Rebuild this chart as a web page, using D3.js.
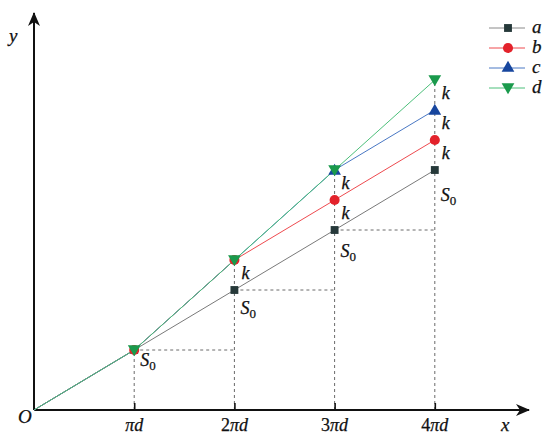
<!DOCTYPE html>
<html><head><meta charset="utf-8">
<script src="https://cdn.jsdelivr.net/npm/d3@7/dist/d3.min.js"></script>
<style>
body{margin:0;background:#fff;}
svg{display:block;}
text{font-family:"Liberation Serif","Times New Roman",serif;fill:#111;stroke:#111;stroke-width:0.25;}
</style></head>
<body>
<svg id="chart" width="549" height="434"></svg>
<script>
// ---- data ----
const xValues = [0, 1, 2, 3, 4];
const seriesNames = ["a", "b", "c", "d"];
const seriesA = [0, 1, 2, 3, 4];
const seriesB = [0, 1, 2.5, 3.5, 4.5];
const seriesC = [0, 1, 2.5, 4, 5];
const seriesD = [0, 1, 2.5, 4, 5.5];
const tickValues = [1, 2, 3, 4];
const tickNumbers = ["", "2", "3", "4"];
const kPointsX = [2, 3, 3, 4, 4, 4];
const kPointsY = [2.5, 4, 3.5, 5.5, 5, 4.5];
const s0PointsX = [1, 2, 3, 4];
const s0PointsY = [1, 2, 3, 4];

const svg = d3.select("#chart");
const x = d3.scaleLinear().domain([0, 4.94]).range([34, 529]);
const y = d3.scaleLinear().domain([0, 6.6]).range([410, 14]);

const styles = {
  a: {line: "#7a7a7a", fill: "#26393a", shape: d3.symbolSquare, size: 62, minX: 1},
  b: {line: "#ee4a4f", fill: "#e3222b", shape: d3.symbolCircle, size: 80, minX: 1},
  c: {line: "#4a78c4", fill: "#17469e", shape: d3.symbolTriangle, size: 70, minX: 3},
  d: {line: "#4cbf7a", fill: "#1a9a4c", shape: d3.symbolTriangle, size: 70, rot: 180, minX: 1}
};
const seriesData = {a: seriesA, b: seriesB, c: seriesC, d: seriesD};

// defs: arrowhead
const defs = svg.append("defs");
defs.append("marker").attr("id", "arr").attr("viewBox", "0 0 14 12")
  .attr("refX", 13).attr("refY", 6).attr("markerWidth", 14).attr("markerHeight", 12)
  .attr("markerUnits", "userSpaceOnUse").attr("orient", "auto")
  .append("path").attr("d", "M0,0 L14,6 L0,12 L4,6 Z").attr("fill", "#111");

// dashed guide lines
const g = svg.append("g");
const topAt = xv => d3.max(seriesNames, n => seriesData[n][xValues.indexOf(xv)]);
tickValues.forEach(xv => {
  g.append("line").attr("x1", x(xv)).attr("x2", x(xv))
    .attr("y1", y(0)).attr("y2", y(topAt(xv)))
    .attr("stroke", "#6a6a6a").attr("stroke-width", 1).attr("stroke-dasharray", "3,3");
});
[1, 2, 3].forEach(xv => {
  g.append("line").attr("x1", x(xv)).attr("x2", x(xv + 1))
    .attr("y1", y(seriesA[xValues.indexOf(xv)])).attr("y2", y(seriesA[xValues.indexOf(xv)]))
    .attr("stroke", "#6a6a6a").attr("stroke-width", 1).attr("stroke-dasharray", "3,3");
});

// x axis ticks
const xAxis = d3.axisBottom(x).tickValues(tickValues).tickSizeInner(-7).tickSizeOuter(0).tickFormat("");
const ax = svg.append("g").attr("transform", `translate(0,${y(0)})`).call(xAxis);
ax.select(".domain").remove();
ax.selectAll(".tick line").attr("stroke", "#111").attr("stroke-width", 1.6);
tickValues.forEach((tv, i) => {
  const t = svg.append("text").attr("x", x(tv)).attr("y", 431).attr("text-anchor", "middle")
    .attr("font-size", 18);
  if (tickNumbers[i]) t.append("tspan").text(tickNumbers[i]);
  t.append("tspan").attr("font-style", "italic").text("πd");
});

// axes lines with arrows
svg.append("line").attr("x1", x(0)).attr("y1", y(0)).attr("x2", 529).attr("y2", y(0))
  .attr("stroke", "#111").attr("stroke-width", 2).attr("marker-end", "url(#arr)");
svg.append("line").attr("x1", x(0)).attr("y1", y(0)).attr("x2", x(0)).attr("y2", 13)
  .attr("stroke", "#111").attr("stroke-width", 2).attr("marker-end", "url(#arr)");

svg.append("text").attr("x", 18).attr("y", 423).attr("font-size", 19).attr("font-style", "italic").text("O");
svg.append("text").attr("x", 501).attr("y", 431).attr("font-size", 19).attr("font-style", "italic").text("x");
svg.append("text").attr("x", 9).attr("y", 42).attr("font-size", 19).attr("font-style", "italic").text("y");

// series lines
const line = d3.line().x((d, i) => x(xValues[i])).y(d => y(d));
seriesNames.forEach(n => {
  svg.append("path").datum(seriesData[n]).attr("d", line)
    .attr("fill", "none").attr("stroke", styles[n].line).attr("stroke-width", 1);
});
// markers
seriesNames.forEach(n => {
  const st = styles[n];
  svg.append("g").selectAll("path").data(seriesData[n].map((v, i) => [xValues[i], v]).filter(d => d[0] >= st.minX))
    .join("path")
    .attr("d", d3.symbol().type(st.shape).size(st.size))
    .attr("transform", d => `translate(${x(d[0])},${y(d[1]) + (st.rot ? -1 : (n === "c" ? 1 : 0))}) rotate(${st.rot || 0})`)
    .attr("fill", st.fill);
});

// k labels
kPointsX.forEach((kx, i) => {
  svg.append("text").attr("x", x(kx) + 7).attr("y", y(kPointsY[i]) + 19)
    .attr("font-size", 18).attr("font-style", "italic").text("k");
});
// S0 labels
const s0dy = [16, 24, 27, 31];
s0PointsX.forEach((sx, i) => {
  const t = svg.append("text").attr("x", x(sx) + 6).attr("y", y(s0PointsY[i]) + s0dy[i])
    .attr("font-size", 18);
  t.append("tspan").attr("font-style", "italic").text("S");
  t.append("tspan").attr("font-size", 13).attr("dy", 4).text("0");
});

// legend
const lg = svg.append("g");
seriesNames.forEach((n, i) => {
  const st = styles[n];
  const ly = 28 + i * 20;
  lg.append("line").attr("x1", 489).attr("x2", 525).attr("y1", ly).attr("y2", ly)
    .attr("stroke", n === "a" ? "#8a8a8a" : st.line).attr("stroke-width", 1);
  lg.append("path").attr("d", d3.symbol().type(st.shape).size(st.size))
    .attr("transform", `translate(508,${ly + (st.rot ? -1 : 0)}) rotate(${st.rot || 0})`).attr("fill", st.fill);
  lg.append("text").attr("x", 532).attr("y", ly + 5).attr("font-size", 19)
    .attr("font-style", "italic").text(n);
});
</script>
</body></html>
